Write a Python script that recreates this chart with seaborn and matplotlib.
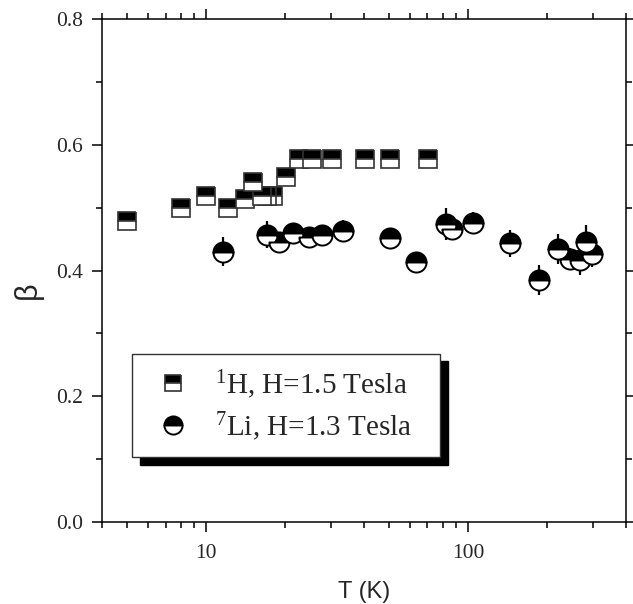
import numpy as np
import pandas as pd
import matplotlib
matplotlib.use("Agg")
import matplotlib.pyplot as plt
from matplotlib.ticker import LogLocator, NullFormatter, FixedLocator, MultipleLocator, FuncFormatter
import seaborn as sns

# ---- data ----
H_T = [5, 8, 10, 12.1, 14.1, 15.1, 18.0, 17.1, 16.3, 20.1, 22.6, 25.3, 30.1, 40.3, 50.2, 70.3]
H_beta = [0.479, 0.499, 0.518, 0.500, 0.513, 0.540, 0.518, 0.518, 0.518, 0.549, 0.578, 0.578,
          0.578, 0.578, 0.578, 0.578]

Li_T = [11.6, 17.05, 19.05, 21.5, 24.8, 27.6, 33.2, 50.4, 63.2, 82.2, 87.1, 104, 144, 187,
        221, 244, 268, 281, 298]
Li_beta = [0.430, 0.457, 0.445, 0.459, 0.453, 0.457, 0.463, 0.452, 0.414, 0.474, 0.466, 0.476,
           0.443, 0.385, 0.434, 0.419, 0.4165, 0.445, 0.4255]
Li_err = [0.0225, 0.022, 0.015, 0.016, 0.016, 0.016, 0.017, 0.016, 0.016, 0.026, 0.015, 0.017,
          0.022, 0.024, 0.024, 0.016, 0.024, 0.0275, 0.020]

labels = [r"$^{1}$H, H=1.5 Tesla", r"$^{7}$Li, H=1.3 Tesla"]
x_label = "T (K)"
y_label = "β"
y_ticks = [0.0, 0.2, 0.4, 0.6, 0.8]

dfH = pd.DataFrame({"T": H_T, "beta": H_beta})
dfLi = pd.DataFrame({"T": Li_T, "beta": Li_beta, "err": Li_err})

sns.set_style("ticks")
plt.rcParams["font.family"] = ["Liberation Serif", "DejaVu Serif"]
plt.rcParams["mathtext.fontset"] = "custom"
plt.rcParams["mathtext.rm"] = "Liberation Serif"
plt.rcParams["mathtext.it"] = "Liberation Serif:italic"

fig = plt.figure(figsize=(6.33, 6.04), dpi=100)
fig.patch.set_facecolor("white")
ax = fig.add_axes([102 / 633, 1 - 522 / 604, 524 / 633, 503 / 604])
ax.set_xscale("log")

ax.errorbar(dfLi["T"], dfLi["beta"], yerr=dfLi["err"], fmt="none", ecolor="black",
            elinewidth=1.6, capsize=0, zorder=1.5)

sns.lineplot(data=dfH, x="T", y="beta", ax=ax, estimator=None, sort=False,
             linestyle="", marker="s", markersize=12.5, color="black",
             markerfacecolor="black", markerfacecoloralt="white", fillstyle="top",
             markeredgecolor="#333333", markeredgewidth=1.2, zorder=2)
h_line = ax.lines[-1]
sns.lineplot(data=dfLi, x="T", y="beta", ax=ax, estimator=None, sort=False,
             linestyle="", marker="o", markersize=14.5, color="black",
             markerfacecolor="black", markerfacecoloralt="white", fillstyle="top",
             markeredgecolor="black", markeredgewidth=1.4, zorder=2)
li_line = ax.lines[-1]

ax.set_xlim(4, 401)
ax.set_ylim(0, 0.8)
ax.xaxis.set_major_locator(FixedLocator([10, 100]))
ax.xaxis.set_major_formatter(FuncFormatter(lambda v, p: f"{int(v)}"))
ax.xaxis.set_minor_locator(LogLocator(base=10, subs=np.arange(2, 10)))
ax.xaxis.set_minor_formatter(NullFormatter())
ax.yaxis.set_major_locator(FixedLocator(y_ticks))
ax.yaxis.set_major_formatter(FuncFormatter(lambda v, p: f"{v:.1f}"))
ax.yaxis.set_minor_locator(MultipleLocator(0.1))

for s in ax.spines.values():
    s.set_visible(True)
    s.set_linewidth(1.1)
    s.set_color("black")

ax.tick_params(which="both", direction="out", top=True, right=True, width=1.1, color="black")
ax.tick_params(which="major", length=7.5, labelsize=15.5, pad=6)
ax.tick_params(which="minor", length=4.5)
ax.tick_params(axis="x", which="major", pad=8)

ax.set_xlabel(x_label, fontsize=17, family="Liberation Sans", labelpad=13)
ax.set_ylabel(y_label, fontsize=22, family="Liberation Sans")
ax.yaxis.set_label_coords(-0.112, 0.46)

leg = ax.legend([h_line, li_line], labels, loc="lower left",
                bbox_to_anchor=(0.057, 0.129, 0.588, 0.2), mode="expand",
                frameon=True, fancybox=False, fontsize=21, markerscale=0.9,
                handlelength=1.8, handletextpad=0.55, borderpad=0.5, labelspacing=0.3,
                borderaxespad=0,
                shadow={"ox": 5.5, "oy": -5.5, "facecolor": "black", "edgecolor": "black", "alpha": 1})
leg.get_frame().set_edgecolor("#333333")
leg.get_frame().set_linewidth(1.0)

fig.savefig("out.png", dpi=100, facecolor="white")
